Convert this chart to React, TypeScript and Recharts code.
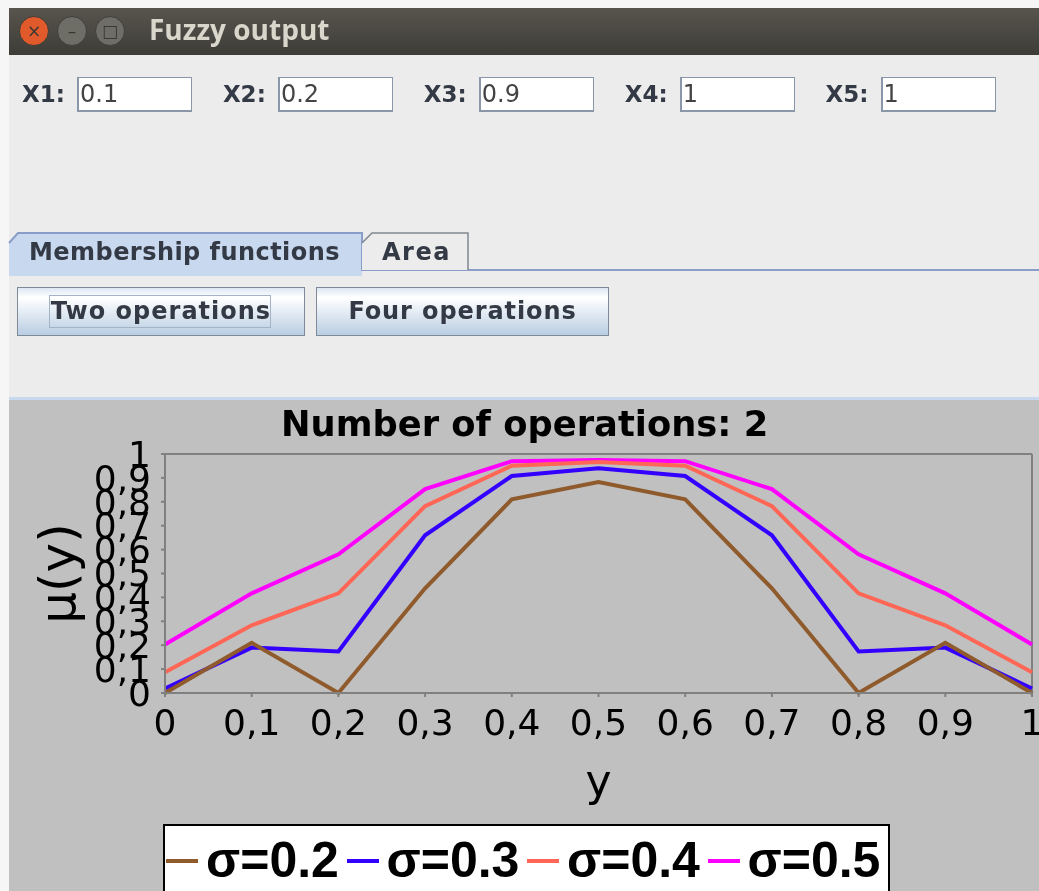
import React from "react";
import {
  LineChart,
  Line,
  XAxis,
  YAxis,
  Legend,
  ReferenceLine,
} from "recharts";

const yPositions = [0, 0.1, 0.2, 0.3, 0.4, 0.5, 0.6, 0.7, 0.8, 0.9, 1];
const axisTicks = [0, 0.1, 0.2, 0.3, 0.4, 0.5, 0.6, 0.7, 0.8, 0.9, 1];

const sigma02 = [0, 0.21, 0, 0.438, 0.81, 0.883, 0.81, 0.438, 0, 0.21, 0];
const sigma03 = [0.019, 0.19, 0.174, 0.66, 0.908, 0.94, 0.908, 0.66, 0.174, 0.19, 0.019];
const sigma04 = [0.087, 0.283, 0.417, 0.782, 0.951, 0.966, 0.951, 0.782, 0.417, 0.283, 0.087];
const sigma05 = [0.203, 0.417, 0.58, 0.853, 0.97, 0.975, 0.97, 0.853, 0.58, 0.417, 0.203];

const inputLabels = ["X1:", "X2:", "X3:", "X4:", "X5:"];
const inputValues = ["0.1", "0.2", "0.9", "1", "1"];

const data = yPositions.map((y, i) => ({
  y,
  s2: sigma02[i],
  s3: sigma03[i],
  s4: sigma04[i],
  s5: sigma05[i],
}));

const commaTick = (v: number) => String(v).replace(".", ",");

const box = (
  left: number,
  top: number,
  width: number,
  height: number,
  extra: React.CSSProperties = {},
): React.CSSProperties => ({
  position: "absolute",
  left,
  top,
  width,
  height,
  boxSizing: "border-box",
  ...extra,
});

const uiFont: React.CSSProperties = {
  fontFamily: "'DejaVu Sans', sans-serif",
  fontWeight: 700,
  fontSize: 24,
  color: "#333a45",
  whiteSpace: "nowrap",
};

const WindowDot = ({ left, color, glyph }: any) => (
  <div
    style={box(left, 16, 30, 30, {
      borderRadius: "50%",
      background: color,
      border: "1px solid #3f3e38",
      color: "#3a3833",
      fontFamily: "'DejaVu Sans'",
      fontSize: 17,
      lineHeight: "28px",
      textAlign: "center",
    })}
  >
    {glyph}
  </div>
);

const renderLegend = ({ payload }: any) => (
  <div
    style={{
      width: 727,
      height: 67,
      boxSizing: "border-box",
      border: "2px solid #000",
      borderBottom: "none",
      background: "#fff",
      position: "relative",
    }}
  >
    {(payload || []).map((entry: any, i: number) => (
      <React.Fragment key={entry.value}>
        <div
          style={box(1 + i * 180.5, 33, 32, 4, { background: entry.color })}
        />
        <div
          style={box(41 + i * 180.5, 5, 140, 58, {
            fontFamily: "'Liberation Sans', sans-serif",
            fontWeight: 700,
            fontSize: 50,
            lineHeight: "58px",
            color: "#000",
            whiteSpace: "nowrap",
          })}
        >
          {entry.value}
        </div>
      </React.Fragment>
    ))}
  </div>
);

const YAxisTitle = ({ viewBox }: any) => {
  const x = viewBox.x + 66;
  const y = viewBox.y + viewBox.height / 2;
  return (
    <text
      x={x}
      y={y}
      textAnchor="middle"
      fontSize={50}
      fill="#000"
      transform={`rotate(-90 ${x} ${y})`}
    >
      μ(y)
    </text>
  );
};

export default function App() {
  return (
    <div
      style={box(0, 0, 1039, 891, {
        overflow: "hidden",
        background: "#f6f6f6",
        filter: "blur(0.5px)",
      })}
    >
      {/* window frame */}
      <div style={box(9, 8, 1030, 47, { background: "linear-gradient(#57554d, #3d3c37)" })} />
      <WindowDot left={19} color="#e05a2b" glyph="×" />
      <WindowDot left={57} color="#6e6d66" glyph="–" />
      <WindowDot left={95} color="#6e6d66" glyph="□" />
      <div
        style={box(149, 10, 260, 38, {
          fontFamily: "'Open Sans', sans-serif",
          fontWeight: 700,
          fontSize: 28,
          lineHeight: "38px",
          color: "#d9d6cc",
          whiteSpace: "nowrap",
        })}
      >
        Fuzzy output
      </div>
      <div style={box(9, 55, 1030, 345, { background: "#ececec" })} />

      {/* inputs */}
      {inputLabels.map((label, i) => (
        <React.Fragment key={label}>
          <div style={box(22 + i * 200.9, 78, 50, 32, { ...uiFont, fontSize: 23, lineHeight: "32px" })}>{label}</div>
          <div
            style={box(77 + i * 200.9, 77, 115, 35, {
              background: "#fff",
              border: "2px solid #8a97a8",
              borderRightWidth: 1,
              borderTopWidth: 1,
              paddingLeft: 1,
              fontFamily: "'DejaVu Sans', sans-serif",
              fontSize: 24,
              lineHeight: "33px",
              color: "#444",
            })}
          >
            {inputValues[i]}
          </div>
        </React.Fragment>
      ))}

      {/* tabs */}
      <svg style={box(0, 225, 1039, 55)} width={1039} height={55}>
        <line x1={362} y1={45} x2={1039} y2={45} stroke="#8a9cc8" strokeWidth={2} />
        <polygon points="9,18 18,8 362,8 362,51 9,51" fill="#c8d8ee" />
        <polyline points="9,18 18,8 362,8 362,46" fill="none" stroke="#8a9cc8" strokeWidth={2} />
        <polygon points="362,18 372,8 468,8 468,45 362,45" fill="#ececec" />
        <polyline points="362,18 372,8 468,8 468,45" fill="none" stroke="#808890" strokeWidth={1.5} />
      </svg>
      <div style={box(29, 235, 320, 34, { ...uiFont, lineHeight: "34px", letterSpacing: 0.45 })}>
        Membership functions
      </div>
      <div style={box(382, 235, 80, 34, { ...uiFont, lineHeight: "34px", letterSpacing: 1.5 })}>
        Area
      </div>

      {/* buttons */}
      <div style={box(17, 287, 288, 49, {
        background: "linear-gradient(#dde7f3, #fff 20%, #b9cde2)",
        border: "1px solid #7f8a99",
        ...uiFont,
        letterSpacing: 1,
        lineHeight: "47px",
        textAlign: "center",
      })}>
        Two operations
      </div>
      <div style={box(49, 295, 222, 33, { border: "1px solid #a3b3c8" })} />
      <div style={box(316, 287, 293, 49, {
        background: "linear-gradient(#dde7f3, #fff 20%, #b9cde2)",
        border: "1px solid #7f8a99",
        ...uiFont,
        letterSpacing: 0.9,
        lineHeight: "47px",
        textAlign: "center",
      })}>
        Four operations
      </div>

      {/* chart panel */}
      <div style={box(9, 397, 1030, 3, { background: "#c8d8ee" })} />
      <div style={box(9, 400, 1030, 491, { background: "#c0c0c0", overflow: "hidden" })}>
        <div
          style={box(0, 2, 1030, 44, {
            fontFamily: "'DejaVu Sans', sans-serif",
            fontWeight: 700,
            fontSize: 35.3,
            lineHeight: "44px",
            color: "#000",
            whiteSpace: "nowrap",
          })}
        >
          <span style={{ position: "absolute", left: 272 }}>Number of operations: 2</span>
        </div>
        <LineChart
          width={1030}
          height={491}
          data={data}
          margin={{ top: 54, right: 7, bottom: 0, left: 0 }}
          style={{ position: "absolute", left: 0, top: 0, fontFamily: "'DejaVu Sans', sans-serif" }}
        >
          <XAxis
            dataKey="y"
            type="number"
            domain={[0, 1]}
            ticks={axisTicks}
            interval={0}
            tickFormatter={commaTick}
            height={131}
            stroke="#808080"
            strokeWidth={2}
            tickSize={4}
            tickMargin={12}
            tick={{ fontSize: 36, fill: "#000" }}
            label={{ value: "y", position: "insideTop", offset: 72, fontSize: 44, fill: "#000" }}
          />
          <YAxis
            type="number"
            domain={[0, 1]}
            ticks={axisTicks}
            interval={0}
            tickFormatter={commaTick}
            width={156}
            stroke="#808080"
            strokeWidth={2}
            tickSize={4}
            tickMargin={10}
            tick={{ fontSize: 36, fill: "#000" }}
            label={<YAxisTitle />}
          />
          <ReferenceLine y={1} stroke="#808080" strokeWidth={2} />
          <ReferenceLine x={1} stroke="#808080" strokeWidth={2} />
          <Legend
            content={renderLegend}
            wrapperStyle={{ left: 154, bottom: 0, width: 727, height: 67 }}
          />
          <Line dataKey="s5" name="σ=0.5" stroke="#ff00ff" strokeWidth={4} dot={false} isAnimationActive={false} />
          <Line dataKey="s4" name="σ=0.4" stroke="#ff6655" strokeWidth={4} dot={false} isAnimationActive={false} />
          <Line dataKey="s3" name="σ=0.3" stroke="#3300ff" strokeWidth={4} dot={false} isAnimationActive={false} />
          <Line dataKey="s2" name="σ=0.2" stroke="#8f5a2c" strokeWidth={4} dot={false} isAnimationActive={false} />
        </LineChart>
      </div>
    </div>
  );
}
